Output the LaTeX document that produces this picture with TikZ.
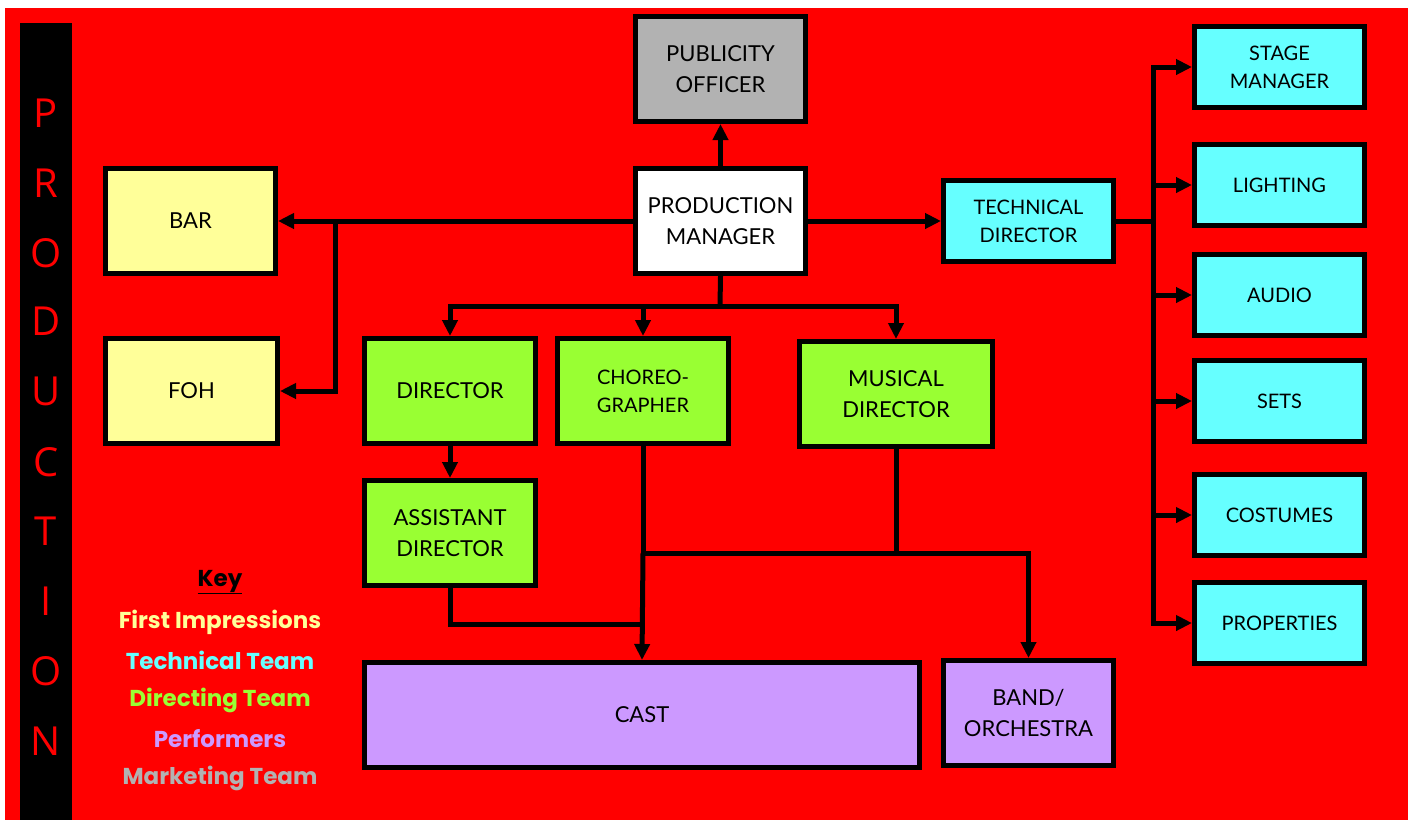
\documentclass[tikz,border=0pt]{standalone}
\usepackage{fontspec}
\setmainfont{Lato}
\newfontfamily\keyfont{Poppins}
\newfontfamily\barfont{Open Sans}
\usetikzlibrary{arrows.meta}
\definecolor{bgred}{HTML}{FF0000}
\definecolor{fi}{HTML}{FFFF99}
\definecolor{tech}{HTML}{66FFFF}
\definecolor{dirg}{HTML}{99FF33}
\definecolor{perf}{HTML}{CC99FF}
\definecolor{mkt}{HTML}{B2B2B2}
\tikzset{
  box/.style={draw=black, line width=5pt, inner sep=2pt, align=center, text=black,
    font=\fontsize{22}{31}\selectfont, minimum width=170pt, minimum height=105pt},
  tbox/.style={box, fill=tech, minimum height=81pt, font=\fontsize{20}{28}\selectfont},
  fibox/.style={box, fill=fi},
  dbox/.style={box, fill=dirg},
  pbox/.style={box, fill=perf},
  conn/.style={line width=5pt, draw=black},
  arr/.style={conn, -{Triangle[length=16pt,width=15pt]}},
  keyitem/.style={font=\keyfont\bfseries\fontsize{23}{23}\selectfont},
  prodletter/.style={text=bgred, font=\barfont\fontsize{40}{40}\selectfont}
}
\begin{document}
\begin{tikzpicture}[x=1pt,y=-1pt]
\useasboundingbox (0,0) rectangle (1413,820);
\fill[white] (0,0) rectangle (1413,820);
\fill[bgred] (5,8) rectangle (1408,820);
\fill[black] (20,23) rectangle (72,820);
% PRODUCTION
\foreach \l/\y [count=\i] in {P/113,R/183,O/253,D/321,U/391,C/462,T/531,I/601,O/671,N/741}
  \node[prodletter] (pl\i) at (46,\y) {\l};
% boxes
\node[box, fill=mkt] (pub) at (720.5,69) {PUBLICITY\\OFFICER};
\node[box, fill=white] (pm) at (720.5,221) {PRODUCTION\\MANAGER};
\node[fibox] (bar) at (190.5,221) {BAR};
\node[fibox, minimum width=172pt] (foh) at (191.5,391) {FOH};
\node[tbox] (td) at (1028.5,221) {TECHNICAL\\DIRECTOR};
\node[tbox] (sm) at (1279.5,67) {STAGE\\MANAGER};
\node[tbox] (li) at (1279.5,185) {LIGHTING};
\node[tbox] (au) at (1279.5,295) {AUDIO};
\node[tbox] (se) at (1279.5,401) {SETS};
\node[tbox] (co) at (1279.5,515) {COSTUMES};
\node[tbox] (pr) at (1279.5,623) {PROPERTIES};
\node[dbox, minimum width=171pt] (dir) at (450,391) {DIRECTOR};
\node[dbox, minimum width=171pt, font=\fontsize{20}{28}\selectfont] (cho) at (643,391) {CHOREO-\\GRAPHER};
\node[dbox, minimum width=193pt] (md) at (896,394) {MUSICAL\\DIRECTOR};
\node[dbox, minimum width=171pt] (ad) at (450,533) {ASSISTANT\\DIRECTOR};
\node[pbox, minimum width=555pt] (cast) at (642,715) {CAST};
\node[pbox] (band) at (1028.5,713) {BAND/\\ORCHESTRA};
% key
\node[font=\keyfont\bfseries\fontsize{23}{23}\selectfont, text=black] (key) at (220,582) {\underline{Key}};
\node[keyitem, text=fi] (k1) at (220,622) {First Impressions};
\node[keyitem, text=tech] (k2) at (220,660) {Technical Team};
\node[keyitem, text=dirg] (k3) at (220,700) {Directing Team};
\node[keyitem, text=perf] (k4) at (220,739) {Performers};
\node[keyitem, text=mkt] (k5) at (220,778) {Marketing Team};
% coordinates
\coordinate (jfoh) at (335,221);
\coordinate (bus) at (1153,221);
\coordinate (pmj) at (720,306);
\coordinate (jc) at (643,553);
\coordinate (jad) at (643,624);
% connectors
\draw[arr] (pm.north) -- (pub.south);
\draw[arr] (pm.west) -- (bar.east);
\draw[arr] (jfoh) |- (foh.east);
\draw[arr] (pm.east) -- (td.west);
\draw[conn] (td.east) -- (bus);
\foreach \t in {sm,li,au,se,co,pr}
  \draw[arr] (bus) |- (\t.west);
\draw[conn] (pm.south) -- (pmj);
\draw[arr] (pmj) -| (dir.north);
\draw[arr] (pmj) -| (cho.north);
\draw[arr] (pmj) -| (md.north);
\draw[arr] (dir.south) -- (ad.north);
\draw[conn] (cho.south) -- (jc);
\draw[conn] (md.south) |- (jc);
\draw[arr] (jc) -- (cast.north);
\draw[arr] (jc) -| (band.north);
\draw[conn] (ad.south) |- (jad);
\end{tikzpicture}
\end{document}
